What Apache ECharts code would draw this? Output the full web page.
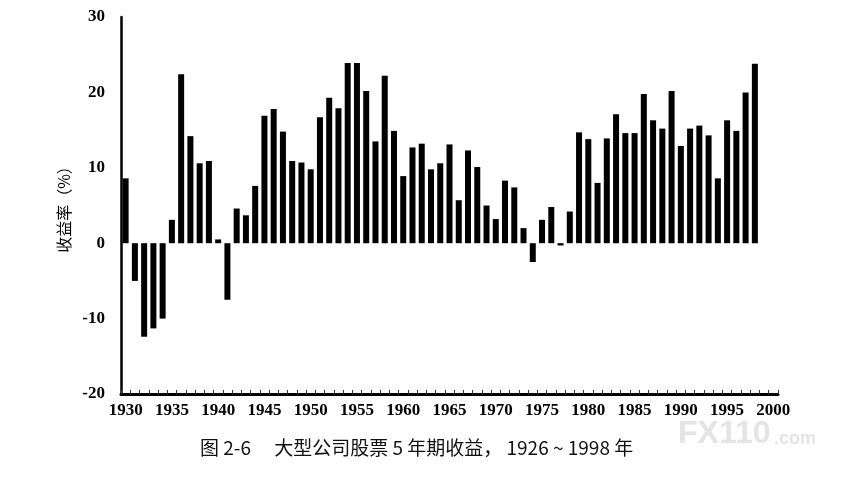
<!DOCTYPE html>
<html>
<head>
<meta charset="utf-8">
<script src="https://cdn.jsdelivr.net/npm/echarts@6/dist/echarts.min.js"></script>
<style>
html,body{margin:0;padding:0;background:#fff;}
#chart{width:868px;height:494px;}
</style>
</head>
<body>
<div id="chart"></div>
<script>
// Categories: end year of each 5-year holding period
var years = [];
for (var y = 1930; y <= 2000; y++) { years.push(String(y)); }

// 5-year returns (%) for large company stocks, periods ending 1930..1998
var returns = [
  8.6, -5.0, -12.4, -11.3, -10.0, 3.1, 22.4, 14.2, 10.6, 10.9,
  0.5, -7.5, 4.6, 3.7, 7.6, 16.9, 17.8, 14.8, 10.9, 10.7,
  9.8, 16.7, 19.3, 17.9, 23.9, 23.9, 20.2, 13.5, 22.2, 14.9,
  8.9, 12.7, 13.2, 9.8, 10.6, 13.1, 5.7, 12.3, 10.1, 5.0,
  3.2, 8.3, 7.4, 2.0, -2.5, 3.1, 4.8, -0.3, 4.2, 14.7,
  13.8, 8.0, 13.9, 17.1, 14.6, 14.6, 19.8, 16.3, 15.2, 20.2,
  12.9, 15.2, 15.6, 14.3, 8.6, 16.3, 14.9, 20.0, 23.8
];

var yTicks = { min: -20, max: 30, interval: 10 };
var yAxisName = '收益率（%）';
var caption = '图 2-6　 大型公司股票 5 年期收益， 1926 ~ 1998 年';

var seriesData = years.map(function (yr, i) {
  return i < returns.length ? returns[i] : null;
});

var chart = echarts.init(document.getElementById('chart'));
chart.setOption({
  animation: false,
  backgroundColor: '#ffffff',
  grid: { left: 121, right: 90, top: 17, bottom: 100, containLabel: false },
  xAxis: {
    type: 'category',
    data: years,
    boundaryGap: true,
    axisLine: { onZero: false, lineStyle: { color: '#000', width: 3 } },
    axisTick: { show: true, interval: 0, inside: true, length: 4, lineStyle: { color: '#333', width: 1 } },
    axisLabel: {
      interval: 4,
      margin: 8,
      color: '#000',
      fontFamily: 'Liberation Serif',
      fontWeight: 'bold',
      fontSize: 17
    },
    splitLine: { show: false }
  },
  yAxis: {
    type: 'value',
    min: yTicks.min,
    max: yTicks.max,
    interval: yTicks.interval,
    name: yAxisName,
    nameLocation: 'middle',
    nameRotate: 90,
    nameGap: 48,
    nameTextStyle: { fontFamily: 'Noto Sans CJK SC', fontSize: 16, color: '#000' },
    axisLine: { show: true, lineStyle: { color: '#000', width: 2.5 } },
    axisTick: { show: false },
    axisLabel: {
      margin: 16,
      color: '#000',
      fontFamily: 'Liberation Serif',
      fontWeight: 'bold',
      fontSize: 17
    },
    splitLine: { show: false }
  },
  series: [{
    type: 'bar',
    data: seriesData,
    barWidth: 6,
    itemStyle: { color: '#000' }
  }],
  graphic: [
    {
      type: 'text',
      left: 200,
      top: 438,
      style: {
        text: caption,
        fontFamily: 'Noto Sans CJK SC',
        fontSize: 19,
        fill: '#111'
      }
    },
    {
      type: 'text',
      left: 678,
      top: 418,
      style: {
        text: 'FX110',
        fontFamily: 'Liberation Sans',
        fontWeight: 'bold',
        fontSize: 32,
        fill: '#e4e4e4'
      }
    },
    {
      type: 'text',
      left: 774,
      top: 430,
      style: {
        text: '.com',
        fontFamily: 'Liberation Sans',
        fontWeight: 'bold',
        fontSize: 18,
        fill: '#e4e4e4'
      }
    }
  ]
});
</script>
</body>
</html>
